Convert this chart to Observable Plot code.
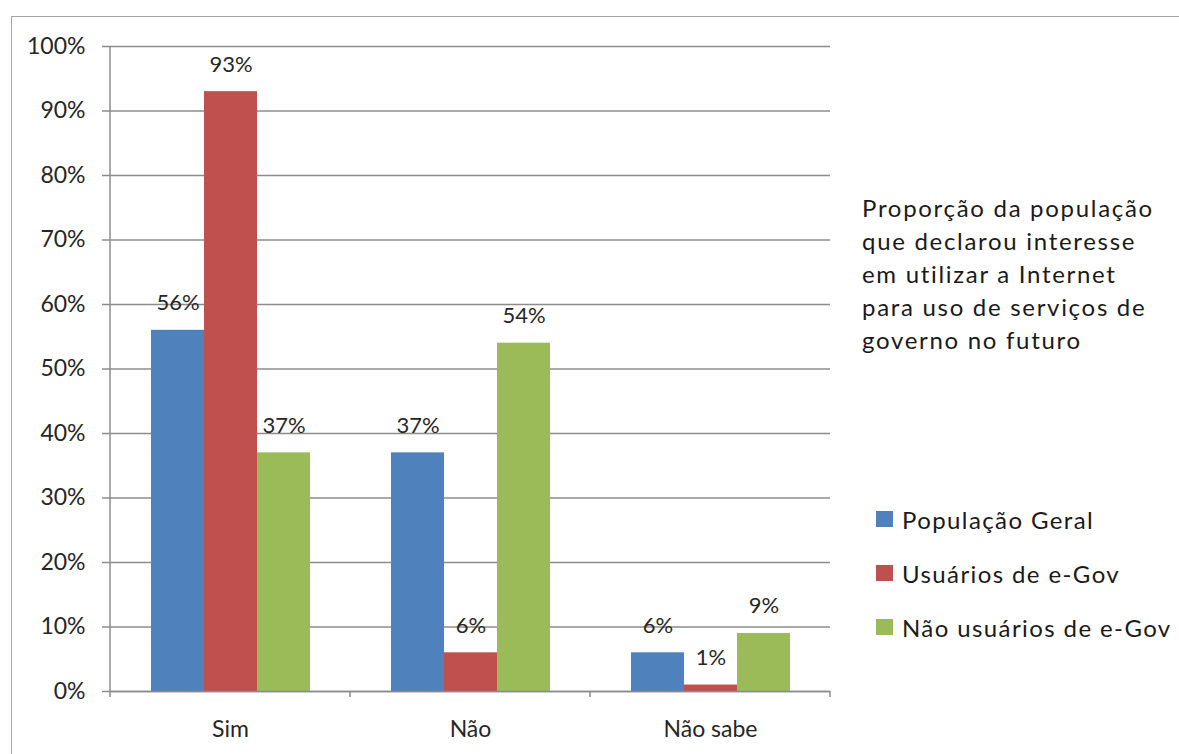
<!DOCTYPE html>
<html>
<head>
<meta charset="utf-8">
<script src="https://cdn.jsdelivr.net/npm/d3@7"></script>
<script src="https://cdn.jsdelivr.net/npm/@observablehq/plot@0.6"></script>
<style>
  html, body { margin: 0; padding: 0; background: #fff; overflow: hidden; }
  #wrap { position: relative; width: 1179px; height: 754px; overflow: hidden; font-family: Lato, sans-serif; }
  #border { position: absolute; left: 11px; top: 16px; width: 1300px; height: 900px; border-left: 1.5px solid #a6a6a6; border-top: 1.5px solid #a6a6a6; }
  #chart { position: absolute; left: 0; top: 0; }
  #title { position: absolute; left: 862px; top: 191px; font-size: 24px; line-height: 33px; color: #1a1a1a; letter-spacing: 1.7px; }
  #legend { position: absolute; left: 876px; top: 492px; }
  .item { display: flex; align-items: center; height: 54px; font-size: 24px; color: #1a1a1a; letter-spacing: 1.4px; }
  .sw { width: 17px; height: 16px; margin-right: 9px; flex: none; }
</style>
</head>
<body>
<div id="wrap">
  <div id="border"></div>
  <div id="chart"></div>
  <div id="title"></div>
  <div id="legend"></div>
</div>
<script>
const categories = ["Sim", "Não", "Não sabe"];
const series = ["População Geral", "Usuários de e-Gov", "Não usuários de e-Gov"];
const colors = ["#4F81BD", "#C0504D", "#9BBB59"];
const populacaoGeral = [56, 37, 6];
const usuariosEGov = [93, 6, 1];
const naoUsuariosEGov = [37, 54, 9];
const yTicks = [0, 10, 20, 30, 40, 50, 60, 70, 80, 90, 100];
const titleLines = ["Proporção da população", "que declarou interesse", "em utilizar a Internet", "para uso de serviços de", "governo no futuro"];

const seriesValues = [populacaoGeral, usuariosEGov, naoUsuariosEGov];
const data = [];
categories.forEach((c, i) => {
  series.forEach((s, j) => data.push({cat: c, series: s, value: seriesValues[j][i]}));
});

const gridColor = "#8c8c8c";
const textColor = "#262626";

const plot = Plot.plot({
  width: 1179,
  height: 754,
  marginLeft: 110,
  marginRight: 349,
  marginTop: 46,
  marginBottom: 63,
  style: { fontFamily: "Lato, sans-serif", background: "transparent", overflow: "visible" },
  fx: { domain: categories, padding: 0, label: null },
  x: { domain: series, paddingInner: 0, paddingOuter: 0.764, axis: null },
  y: { domain: [0, 100], label: null },
  color: { domain: series, range: colors },
  marks: [
    Plot.gridY({ ticks: yTicks, stroke: gridColor, strokeOpacity: 1, strokeWidth: 1.5 }),
    Plot.axisY({ ticks: yTicks, tickFormat: d => d + "%", tickSize: 8, tickPadding: 17,
      stroke: gridColor, strokeWidth: 1.5, fill: textColor, fontSize: 23, label: null }),
    Plot.axisFx({ anchor: "bottom", tickSize: 0, tickPadding: 29, fill: textColor, fontSize: 23, label: null }),
    Plot.barY(data, { fx: "cat", x: "series", y: "value", fill: "series" }),
    Plot.ruleY([0], { stroke: gridColor, strokeWidth: 1.5 }),
    Plot.text(data, { fx: "cat", x: "series", y: "value", text: d => d.value + "%", dy: -27,
      fill: textColor, fontSize: 22, letterSpacing: 1 })
  ]
});
document.getElementById("chart").appendChild(plot);

// axis line and category boundary ticks from the library's scales
const fx = plot.scale("fx"), ys = plot.scale("y");
const svg = d3.select(plot);
const y0 = ys.apply(0), y1 = ys.apply(100);
const xs = categories.map(c => fx.apply(c));
xs.push(fx.apply(categories[categories.length - 1]) + fx.bandwidth);
const g = svg.append("g").attr("stroke", gridColor).attr("stroke-width", 1.5).attr("fill", "none");
g.append("line").attr("x1", xs[0]).attr("x2", xs[0]).attr("y1", y1).attr("y2", y0 + 6);
xs.slice(1).forEach(x => g.append("line").attr("x1", x).attr("x2", x).attr("y1", y0).attr("y2", y0 + 6));

// title
document.getElementById("title").innerHTML = titleLines.map(l => `<div>${l}</div>`).join("");
// legend
const lg = document.getElementById("legend");
series.forEach((s, i) => {
  const it = document.createElement("div");
  it.className = "item";
  it.innerHTML = `<span class="sw" style="background:${colors[i]}"></span><span>${s}</span>`;
  lg.appendChild(it);
});
</script>
</body>
</html>
